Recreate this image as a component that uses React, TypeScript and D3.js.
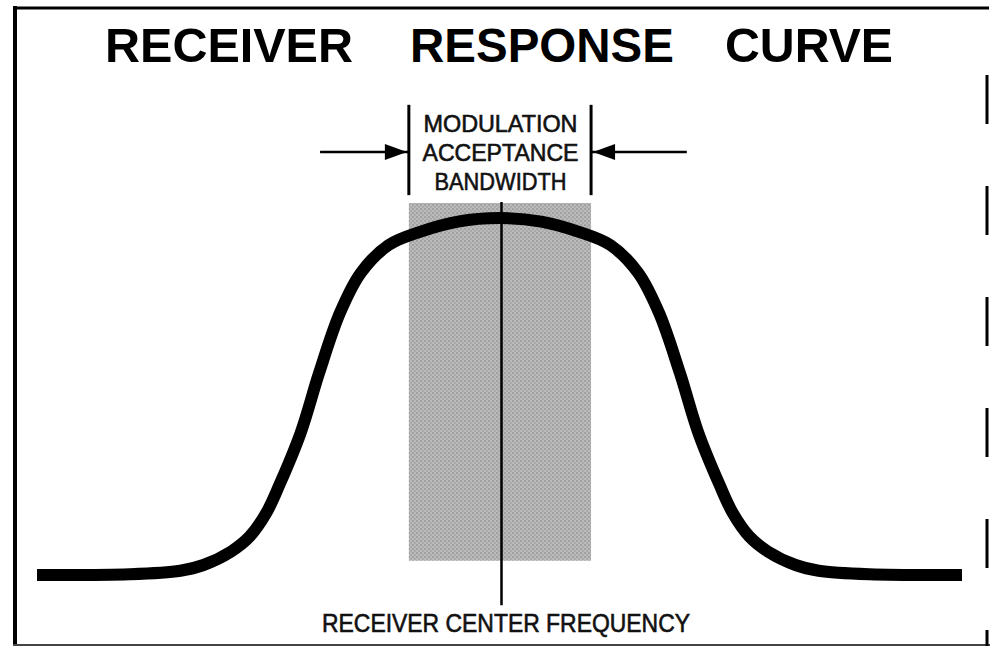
import React from "react";
import * as d3 from "d3";

// response curve (frequency offset vs relative response)
const freqOffsets = [-100, -80, -69, -64, -58, -54, -50.5, -47.5, -43, -39, -34.5, -30, -24, -17, -9, 0, 9, 17, 24, 30, 34.5, 39, 43, 47.5, 50.5, 54, 58, 64, 69, 80, 100];
const response = [0, 0.002, 0.012, 0.028, 0.066, 0.108, 0.172, 0.255, 0.398, 0.566, 0.734, 0.846, 0.924, 0.962, 0.99, 1.0, 0.99, 0.962, 0.924, 0.846, 0.734, 0.566, 0.398, 0.255, 0.172, 0.108, 0.066, 0.028, 0.012, 0.002, 0];

// modulation acceptance band
const bandEdges = [-19.6, 19.8];
const bandLevels = [0.04, 1.042];
const bracketLevels = [1.064, 1.317];
const arrowLevel = 1.185;
const arrowTails = [-38.8, 40.5];
const centerLineLevels = [-0.085, 1.045];

const titleWords = ["RECEIVER", "RESPONSE", "CURVE"];
const titleWordX = [105, 410, 725];
const titleWordW = [248, 264, 168];
const bandLabel = ["MODULATION", "ACCEPTANCE", "BANDWIDTH"];
const bandLabelW = [154, 156, 132];
const centerLabel = "RECEIVER CENTER FREQUENCY";

const W = 997;
const H = 646;
const FONT = "'Liberation Sans', Arial, Helvetica, sans-serif";

export default function App() {
  const x = d3.scaleLinear().domain([-100, 100]).range([37, 962]);
  const y = d3.scaleLinear().domain([0, 1]).range([575, 218]);

  const pts: [number, number][] = freqOffsets.map((f, i) => [f, response[i]]);
  const line = d3
    .line<[number, number]>()
    .x((d) => x(d[0]))
    .y((d) => y(d[1]))
    .curve(d3.curveCatmullRom.alpha(0.5));

  const arrowHead = (tipX: number, dir: number) => {
    const yy = y(arrowLevel);
    return `M${tipX},${yy} L${tipX - dir * 22},${yy - 8} L${tipX - dir * 22},${yy + 8} Z`;
  };

  return (
    <svg width={W} height={H} style={{ position: "absolute", left: 0, top: 0, background: "#fff" }}>
      <defs>
        <pattern id="halftone" width="4" height="4" patternUnits="userSpaceOnUse">
          <rect width="4" height="4" fill="#b9bab9" />
          <rect x="0" y="0" width="2" height="2" fill="#a0a1a0" />
          <rect x="2" y="2" width="2" height="2" fill="#a8a9a8" />
        </pattern>
      </defs>

      {/* frame */}
      <line x1={15} x2={15} y1={6} y2={H} stroke="#000" strokeWidth={4} />
      <line x1={13} x2={989} y1={8} y2={8} stroke="#000" strokeWidth={3} />
      <line x1={13} x2={990} y1={645} y2={645} stroke="#444" strokeWidth={2} />
      <line x1={987} x2={987} y1={75} y2={H} stroke="#000" strokeWidth={3} strokeDasharray="49 62" />

      {/* title */}
      {titleWords.map((w, i) => (
        <text key={w} x={titleWordX[i]} y={62} fontFamily={FONT} fontWeight="bold" fontSize={48}
          textLength={titleWordW[i]} lengthAdjust="spacingAndGlyphs" fill="#000">{w}</text>
      ))}

      {/* shaded band */}
      <rect x={x(bandEdges[0])} y={y(bandLevels[1])} width={x(bandEdges[1]) - x(bandEdges[0])}
        height={y(bandLevels[0]) - y(bandLevels[1])} fill="url(#halftone)" />

      {/* center frequency line */}
      <line x1={x(0) + 2} x2={x(0) + 2} y1={y(centerLineLevels[1])} y2={y(centerLineLevels[0])} stroke="#000" strokeWidth={2.5} />

      {/* response curve */}
      <path d={line(pts) || ""} fill="none" stroke="#000" strokeWidth={12} strokeLinejoin="round" />

      {/* brackets and arrows */}
      {bandEdges.map((b, i) => (
        <g key={i}>
          <line x1={x(b)} x2={x(b)} y1={y(bracketLevels[1])} y2={y(bracketLevels[0])} stroke="#000" strokeWidth={3} />
          <line x1={x(arrowTails[i])} x2={x(b)} y1={y(arrowLevel)} y2={y(arrowLevel)} stroke="#000" strokeWidth={2.5} />
          <path d={arrowHead(x(b) + (i === 0 ? -2 : 2), i === 0 ? 1 : -1)} fill="#000" />
        </g>
      ))}

      {/* band label */}
      {bandLabel.map((t, i) => (
        <text key={t} x={x(0) - bandLabelW[i] / 2 + 1} y={132 + i * 29} fontFamily={FONT} fontSize={24}
          textLength={bandLabelW[i]} lengthAdjust="spacingAndGlyphs" fill="#111" stroke="#111" strokeWidth={0.6}>{t}</text>
      ))}

      {/* center frequency label */}
      <text x={322} y={632} fontFamily={FONT} fontSize={25} textLength={368}
        lengthAdjust="spacingAndGlyphs" fill="#111" stroke="#111" strokeWidth={0.6}>{centerLabel}</text>
    </svg>
  );
}
